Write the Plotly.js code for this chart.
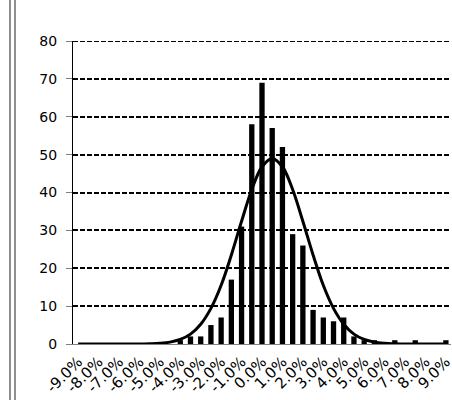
<!DOCTYPE html>
<html>
<head>
<meta charset="utf-8">
<script src="https://cdn.plot.ly/plotly-3.0.1.min.js"></script>
<style>
html,body{margin:0;padding:0;background:#fff;overflow:hidden;}
#wrap{position:relative;width:452px;height:400px;}
#chart{position:absolute;left:0;top:0;width:452px;height:400px;}
#frame{position:absolute;left:9px;top:0;width:3px;height:400px;border-left:2px solid #8f8f8f;border-right:2px solid #8f8f8f;background:#fff;}
</style>
</head>
<body>
<div id="wrap"><div id="chart"></div><div id="frame"></div></div>
<script>
var categories = ["-9.0%","-8.5%","-8.0%","-7.5%","-7.0%","-6.5%","-6.0%","-5.5%","-5.0%","-4.5%",
  "-4.0%","-3.5%","-3.0%","-2.5%","-2.0%","-1.5%","-1.0%","-0.5%","0.0%","0.5%",
  "1.0%","1.5%","2.0%","2.5%","3.0%","3.5%","4.0%","4.5%","5.0%","5.5%",
  "6.0%","6.5%","7.0%","7.5%","8.0%","8.5%","9.0%"];
var frequency = [0,0,0,0,0,0,0,0,0,0,
  1,2,2,5,7,17,31,58,69,57,
  52,29,26,9,7,6,7,2,1,1,
  0,1,0,1,0,0,1];
var normalCurve = [0,0,0,0,0,0,0,0.07,0.2,0.5,
  1.2,2.6,5.2,9.4,15.5,23.5,32.4,40.8,46.8,49,
  46.8,40.8,32.4,23.5,15.5,9.4,5.2,2.6,1.2,0.5,
  0.2,0.07,0,0,0,0,0];
var tickLabels = ["-9.0%","-8.0%","-7.0%","-6.0%","-5.0%","-4.0%","-3.0%","-2.0%","-1.0%","0.0%",
  "1.0%","2.0%","3.0%","4.0%","5.0%","6.0%","7.0%","8.0%","9.0%"];
var yTicks = [0,10,20,30,40,50,60,70,80];
var yMax = 80;

var traces = [
  {type:'bar', x:categories, y:frequency, marker:{color:'#000000', line:{width:0}}, hoverinfo:'none'},
  {type:'scatter', mode:'lines', x:categories, y:normalCurve, line:{color:'#000000', width:3, shape:'spline'}, hoverinfo:'none'}
];
var layout = {
  width:452, height:400,
  margin:{l:73, r:1, t:41, b:56},
  paper_bgcolor:'#ffffff', plot_bgcolor:'#ffffff',
  showlegend:false,
  bargap:0.48,
  font:{family:'DejaVu Sans, Verdana, sans-serif', size:14, color:'#000000'},
  xaxis:{type:'category', categoryorder:'array', categoryarray:categories,
    range:[-0.5,36.5], tickmode:'array', tickvals:tickLabels, ticktext:tickLabels,
    tickangle:-45, ticks:'', ticklabelstandoff:2, showgrid:false, zeroline:false,
    showline:true, linecolor:'#808080', linewidth:1, fixedrange:true,
    tickfont:{family:'DejaVu Sans, Verdana, sans-serif', size:15, color:'#000000'}},
  yaxis:{range:[0,yMax], tickmode:'array', tickvals:yTicks, ticks:'outside', ticklen:6,
    tickcolor:'#808080', tickwidth:1, showline:true, linecolor:'#000000', linewidth:1,
    showgrid:true, gridcolor:'#000000', gridwidth:2, griddash:'5px,2px', zeroline:false,
    ticklabelstandoff:6, fixedrange:true,
    tickfont:{family:'DejaVu Sans, Verdana, sans-serif', size:14, color:'#000000'}},
  shapes:[{type:'line', xref:'paper', x0:0, x1:1, yref:'y', y0:yMax, y1:yMax,
    line:{color:'#000000', width:2, dash:'5px,2px'}, layer:'below'}]
};
Plotly.newPlot('chart', traces, layout, {displayModeBar:false, staticPlot:true});
</script>
</body>
</html>
